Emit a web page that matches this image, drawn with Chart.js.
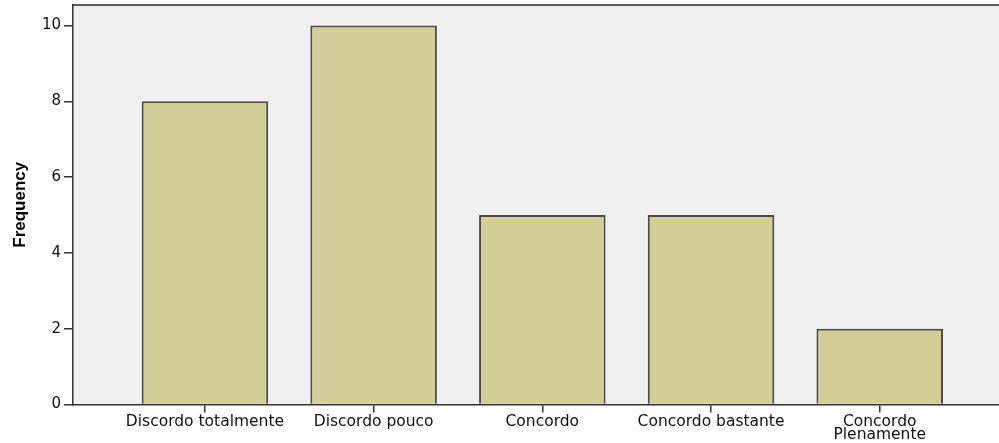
<!DOCTYPE html>
<html>
<head>
<meta charset="utf-8">
<script src="https://cdn.jsdelivr.net/npm/chart.js@4/dist/chart.umd.min.js"></script>
<style>
  html, body { margin: 0; padding: 0; background: #ffffff; }
  #wrap { width: 999px; height: 443px; position: relative; }
</style>
</head>
<body>
<div id="wrap"><canvas id="c"></canvas></div>
<script>
const categories = ["Discordo totalmente", "Discordo pouco", "Concordo", "Concordo bastante", ["Concordo", "Plenamente"]];
const frequency = [8, 10, 5, 5, 2];
const yTicks = [0, 2, 4, 6, 8, 10];

const plotBg = {
  id: 'plotBg',
  beforeDraw(chart) {
    const { ctx, chartArea: a } = chart;
    ctx.save();
    ctx.fillStyle = '#f0f0f0';
    ctx.fillRect(a.left, a.top, a.right - a.left, a.bottom - a.top);
    ctx.restore();
  },
  afterDatasetsDraw(chart) {
    const { ctx, chartArea: a } = chart;
    ctx.save();
    ctx.strokeStyle = '#2a2a2a';
    ctx.lineWidth = 1.5;
    ctx.beginPath();
    ctx.moveTo(a.left, a.top);
    ctx.lineTo(a.right, a.top);
    ctx.stroke();
    ctx.restore();
  }
};

new Chart(document.getElementById('c'), {
  type: 'bar',
  data: {
    datasets: [{
      label: 'Frequency',
      data: frequency.map((v, i) => ({ x: i, y: v })),
      backgroundColor: '#d3ce97',
      borderColor: '#4a4a4a',
      borderWidth: 2,
      categoryPercentage: 1,
      barPercentage: 0.75
    }]
  },
  options: {
    responsive: true,
    maintainAspectRatio: false,
    animation: false,
    layout: { padding: { top: 5, right: 0, left: 0, bottom: 0 } },
    plugins: { legend: { display: false }, tooltip: { enabled: false } },
    scales: {
      x: {
        type: 'linear',
        min: -0.782,
        max: 4.707,
        offset: false,
        afterBuildTicks: s => { s.ticks = categories.map((_, i) => ({ value: i })); },
        afterFit: s => { s.height = 38.5; s.paddingLeft = 0; s.paddingRight = 0; },
        grid: { display: true, offset: false, drawOnChartArea: false, drawTicks: true, tickLength: 8, color: '#333', lineWidth: 1.5 },
        border: { display: true, color: '#333', width: 1.5 },
        ticks: {
          autoSkip: false,
          maxRotation: 0,
          padding: 3,
          color: '#111',
          font: { family: 'DejaVu Sans', size: 15.5, lineHeight: 0.85 },
          callback: v => categories[v]
        }
      },
      y: {
        min: 0,
        max: 10.54,
        afterBuildTicks: s => { s.ticks = yTicks.map(v => ({ value: v })); },
        afterFit: s => { s.width = 73; s.paddingTop = 0; s.paddingBottom = 0; },
        grid: { display: true, drawOnChartArea: false, drawTicks: true, tickLength: 9, color: '#333', lineWidth: 1.5 },
        border: { display: true, color: '#333', width: 1.5 },
        ticks: {
          padding: 3,
          color: '#111',
          font: { family: 'DejaVu Sans', size: 15 }
        },
        title: {
          display: true,
          text: 'Frequency',
          color: '#000',
          padding: { top: 10, bottom: 10 },
          font: { family: 'Liberation Sans', size: 17, weight: 'bold' }
        }
      }
    }
  },
  plugins: [plotBg]
});
</script>
</body>
</html>
